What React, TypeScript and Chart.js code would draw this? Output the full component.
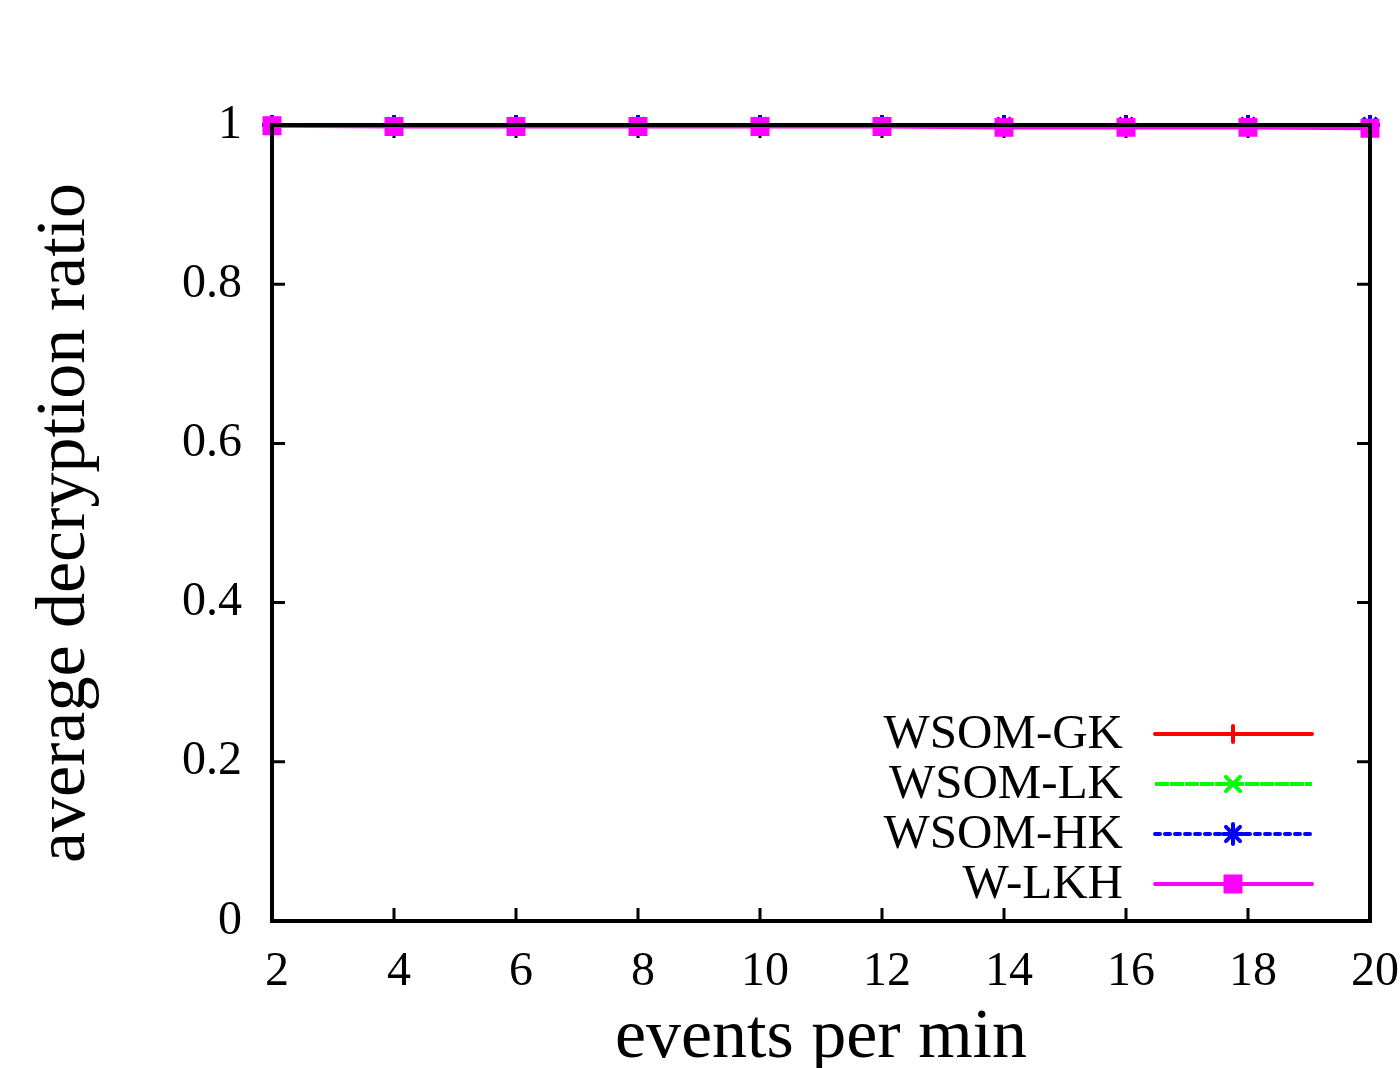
import React, { useEffect, useRef } from "react";
import { Chart, registerables } from "chart.js";
import { drawPoint } from "chart.js/helpers";

Chart.register(...registerables);

const eventsPerMin = [2, 4, 6, 8, 10, 12, 14, 16, 18, 20];
const wsomGK = [1, 1, 1, 1, 1, 1, 1, 1, 1, 1];
const wsomLK = [1, 1, 1, 1, 1, 1, 1, 1, 1, 1];
const wsomHK = [1, 1, 1, 1, 1, 1, 1, 1, 1, 1];
const wLKH = [0.999, 0.998, 0.998, 0.998, 0.998, 0.998, 0.997, 0.997, 0.997, 0.996];
const seriesNames = ["WSOM-GK", "WSOM-LK", "WSOM-HK", "W-LKH"];
const yTicks = [0, 0.2, 0.4, 0.6, 0.8, 1];

const FONT = "'Liberation Serif', 'Times New Roman', serif";

const frameAndTicks = {
  id: "frameAndTicks",
  beforeDatasetsDraw(chart: any) {
    const { ctx, chartArea: a, scales } = chart;
    ctx.save();
    ctx.strokeStyle = "#000";
    ctx.lineWidth = 3;
    const tl = 13;
    ctx.beginPath();
    for (const v of eventsPerMin) {
      const x = scales.x.getPixelForValue(v);
      ctx.moveTo(x, a.bottom);
      ctx.lineTo(x, a.bottom - tl);
      ctx.moveTo(x, a.top);
      ctx.lineTo(x, a.top + tl);
    }
    for (const v of yTicks) {
      const y = scales.y.getPixelForValue(v);
      ctx.moveTo(a.left, y);
      ctx.lineTo(a.left + tl, y);
      ctx.moveTo(a.right, y);
      ctx.lineTo(a.right - tl, y);
    }
    ctx.stroke();
    ctx.restore();
  },
  afterDatasetsDraw(chart: any) {
    const { ctx, chartArea: a } = chart;
    ctx.save();
    ctx.strokeStyle = "#000";
    ctx.lineWidth = 4;
    ctx.strokeRect(a.left, a.top, a.right - a.left, a.bottom - a.top);
    ctx.restore();
  },
};

const customLegend = {
  id: "customLegend",
  afterDraw(chart: any) {
    const { ctx, chartArea: a } = chart;
    const ds = chart.data.datasets;
    ctx.save();
    ctx.font = `49px ${FONT}`;
    ctx.textAlign = "right";
    ctx.textBaseline = "middle";
    const n = ds.length;
    for (let i = 0; i < n; i++) {
      const d = ds[i];
      const y = a.bottom - 37 - (n - 1 - i) * 50;
      ctx.fillStyle = "#000";
      ctx.fillText(d.label, a.right - 247, y + 1);
      ctx.strokeStyle = d.borderColor;
      ctx.lineWidth = d.borderWidth;
      ctx.lineCap = d.borderCapStyle || "butt";
      ctx.setLineDash(d.borderDash || []);
      ctx.beginPath();
      ctx.moveTo(a.right - 215, y);
      ctx.lineTo(a.right - 58, y);
      ctx.stroke();
      ctx.setLineDash([]);
      ctx.lineCap = "round";
      ctx.fillStyle = d.pointBackgroundColor;
      ctx.strokeStyle = d.pointBorderColor;
      ctx.lineWidth = d.pointBorderWidth;
      drawPoint(ctx, { pointStyle: d.pointStyle, radius: d.pointRadius, rotation: 0, borderWidth: d.pointBorderWidth }, a.right - 137, y);
    }
    ctx.restore();
  },
};

function makeDataset(label: string, values: number[], color: string, style: string, radius: number, dash: number[], cap: string, order: number) {
  return {
    label,
    data: eventsPerMin.map((x, i) => ({ x, y: values[i] })),
    borderColor: color,
    backgroundColor: color,
    borderWidth: 4,
    borderDash: dash,
    borderCapStyle: cap,
    pointStyle: style,
    pointRadius: radius,
    pointBorderWidth: 4,
    pointBorderColor: color,
    pointBackgroundColor: color,
    tension: 0,
    order,
    clip: false as any,
  };
}

export default function App() {
  const ref = useRef<HTMLCanvasElement | null>(null);
  useEffect(() => {
    if (!ref.current) return;
    const chart = new Chart(ref.current, {
      type: "line",
      data: {
        datasets: [
          makeDataset(seriesNames[0], wsomGK, "#ff0000", "cross", 8, [], "round", 4),
          makeDataset(seriesNames[1], wsomLK, "#00ff00", "crossRot", 10, [14, 1], "butt", 3),
          makeDataset(seriesNames[2], wsomHK, "#0000ff", "star", 10, [5, 5], "round", 2),
          { ...makeDataset(seriesNames[3], wLKH, "#ff00ff", "rect", 12, [], "round", 1), pointBorderWidth: 2 },
        ] as any,
      },
      options: {
        animation: false,
        responsive: false,
        devicePixelRatio: 1,
        layout: { padding: { top: 125, right: 30, left: 0, bottom: 0 } },
        plugins: { legend: { display: false }, tooltip: { enabled: false } },
        scales: {
          x: {
            type: "linear",
            min: 2,
            max: 20,
            grid: { display: false, drawTicks: false },
            border: { display: false },
            afterFit: (s: any) => { s.height = 147; s.paddingLeft = 0; s.paddingRight = 0; },
            afterBuildTicks: (s: any) => { s.ticks = eventsPerMin.map((v) => ({ value: v })); },
            ticks: {
              padding: 23,
              labelOffset: 5,
              color: "#000",
              font: { family: FONT, size: 48 },
              maxRotation: 0,
              autoSkip: false,
            },
            title: {
              display: true,
              text: "events per min",
              color: "#000",
              font: { family: FONT, size: 70, lineHeight: 0.85 },
              padding: 0,
            },
          },
          y: {
            type: "linear",
            min: 0,
            max: 1,
            grid: { display: false, drawTicks: false },
            border: { display: false },
            afterFit: (s: any) => { s.width = 272; s.paddingTop = 0; s.paddingBottom = 0; },
            afterBuildTicks: (s: any) => { s.ticks = yTicks.map((v) => ({ value: v })); },
            ticks: {
              padding: 30,
              color: "#000",
              font: { family: FONT, size: 48 },
              callback: (v: any) => String(Number(Number(v).toFixed(1))),
            },
            title: {
              display: true,
              text: "average decryption ratio",
              color: "#000",
              font: { family: FONT, size: 70, lineHeight: 1.1 },
              padding: { top: 27, bottom: 0 },
            },
          },
        },
      } as any,
      plugins: [frameAndTicks, customLegend],
    });
    return () => chart.destroy();
  }, []);
  return (
    <div style={{ position: "absolute", left: 0, top: 0, width: 1400, height: 1068, background: "#fff" }}>
      <canvas ref={ref} width={1400} height={1068} style={{ display: "block" }} />
    </div>
  );
}
